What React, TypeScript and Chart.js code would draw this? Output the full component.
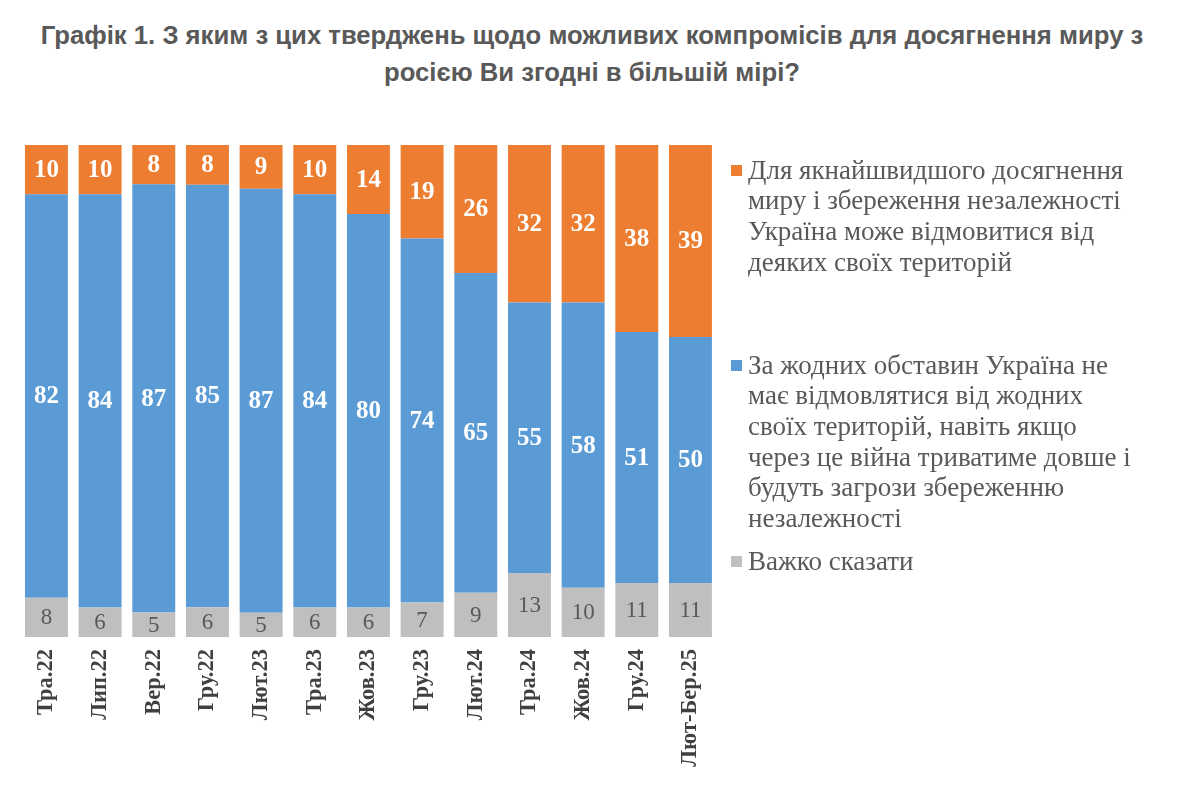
import React, { useEffect, useRef } from "react";
import { Chart, registerables } from "chart.js";

Chart.register(...registerables);

const categories = ["Тра.22", "Лип.22", "Вер.22", "Гру.22", "Лют.23", "Тра.23", "Жов.23", "Гру.23", "Лют.24", "Тра.24", "Жов.24", "Гру.24", "Лют-Бер.25"];
const canGiveUp = [10, 10, 8, 8, 9, 10, 14, 19, 26, 32, 32, 38, 39];
const neverGiveUp = [82, 84, 87, 85, 87, 84, 80, 74, 65, 55, 58, 51, 50];
const hardToSay = [8, 6, 5, 6, 5, 6, 6, 7, 9, 13, 10, 11, 11];

const seriesNames = [
  "Для якнайшвидшого досягнення миру і збереження незалежності Україна може відмовитися від деяких своїх територій",
  "За жодних обставин Україна не має відмовлятися від жодних своїх територій, навіть якщо через це війна триватиме довше і будуть загрози збереженню незалежності",
  "Важко сказати",
];

const ORANGE = "#ED7D31";
const BLUE = "#5B9BD5";
const GRAY = "#BFBFBF";
const TEXT = "#595959";

const totals = categories.map((_, i) => canGiveUp[i] + neverGiveUp[i] + hardToSay[i]);
const pct = (arr: number[]) => arr.map((v, i) => (v / totals[i]) * 100);

const labelPlugin = {
  id: "barLabels",
  afterDatasetsDraw(chart: any) {
    const ctx = chart.ctx;
    chart.data.datasets.forEach((ds: any, di: number) => {
      const meta = chart.getDatasetMeta(di);
      meta.data.forEach((el: any, i: number) => {
        const raw = ds.rawValues[i];
        const y = (el.y + el.base) / 2;
        ctx.save();
        ctx.font = ds.labelFont;
        ctx.fillStyle = ds.labelColor;
        ctx.textAlign = "center";
        ctx.textBaseline = "middle";
        ctx.fillText(String(raw), el.x, y + 1);
        ctx.restore();
      });
    });
  },
};

function App() {
  const ref = useRef<HTMLCanvasElement | null>(null);
  useEffect(() => {
    if (!ref.current) return;
    const chart = new Chart(ref.current, {
      type: "bar",
      data: {
        labels: categories,
        datasets: [
          {
            label: seriesNames[2],
            data: pct(hardToSay),
            backgroundColor: GRAY,
            rawValues: hardToSay,
            labelFont: "23px 'Liberation Serif'",
            labelColor: TEXT,
          } as any,
          {
            label: seriesNames[1],
            data: pct(neverGiveUp),
            backgroundColor: BLUE,
            rawValues: neverGiveUp,
            labelFont: "bold 25px 'Liberation Serif'",
            labelColor: "#FFFFFF",
          } as any,
          {
            label: seriesNames[0],
            data: pct(canGiveUp),
            backgroundColor: ORANGE,
            rawValues: canGiveUp,
            labelFont: "bold 25px 'Liberation Serif'",
            labelColor: "#FFFFFF",
          } as any,
        ],
      },
      options: {
        animation: false,
        responsive: false,
        maintainAspectRatio: false,
        layout: { padding: { left: 19.6, right: 1184 - 717.3, top: 145, bottom: 0 } },
        plugins: { legend: { display: false }, tooltip: { enabled: false }, title: { display: false } },
        datasets: { bar: { barPercentage: 0.8, categoryPercentage: 1.0 } },
        scales: {
          x: {
            stacked: true,
            grid: { display: false, drawTicks: false },
            border: { display: false },
            ticks: {
              minRotation: 90,
              maxRotation: 90,
              autoSkip: false,
              padding: 12,
              color: "#404040",
              font: { family: "'Liberation Serif'", size: 22.5, weight: "bold" },
            },
            afterFit: (scale: any) => {
              scale.height = 800 - 637;
            },
          },
          y: {
            stacked: true,
            display: false,
            min: 0,
            max: 100,
          },
        },
      },
      plugins: [labelPlugin],
    } as any);
    return () => chart.destroy();
  }, []);

  const legendItems = [
    { color: ORANGE, text: seriesNames[0], top: 154.6, width: 390 },
    { color: BLUE, text: seriesNames[1], top: 349.6, width: 390 },
    { color: GRAY, text: seriesNames[2], top: 545.6, width: 390 },
  ];

  return (
    <div style={{ position: "fixed", left: 0, top: 0, width: 1184, height: 800, background: "#fff", overflow: "hidden" }}>
      <div
        style={{
          position: "absolute",
          left: 0,
          top: 16.5,
          width: 1184,
          textAlign: "center",
          fontFamily: "'Liberation Sans', Arial, sans-serif",
          fontWeight: "bold",
          fontSize: 25.7,
          lineHeight: "37px",
          color: TEXT,
          whiteSpace: "nowrap",
        }}
      >
        Графік 1. З яким з цих тверджень щодо можливих компромісів для досягнення миру з
        <br />
        росією Ви згодні в більшій мірі?
      </div>
      <canvas ref={ref} width={1184} height={800} style={{ position: "absolute", left: 0, top: 0, width: 1184, height: 800 }} />
      {legendItems.map((it, i) => (
        <div
          key={i}
          style={{
            position: "absolute",
            left: 748,
            top: it.top,
            width: it.width,
            fontFamily: "'Liberation Serif', serif",
            fontSize: 27,
            lineHeight: "30.7px",
            color: TEXT,
          }}
        >
          <span
            style={{
              position: "absolute",
              left: -17,
              top: 10.5,
              width: 11,
              height: 11,
              background: it.color,
            }}
          />
          {it.text}
        </div>
      ))}
    </div>
  );
}

export default App;
